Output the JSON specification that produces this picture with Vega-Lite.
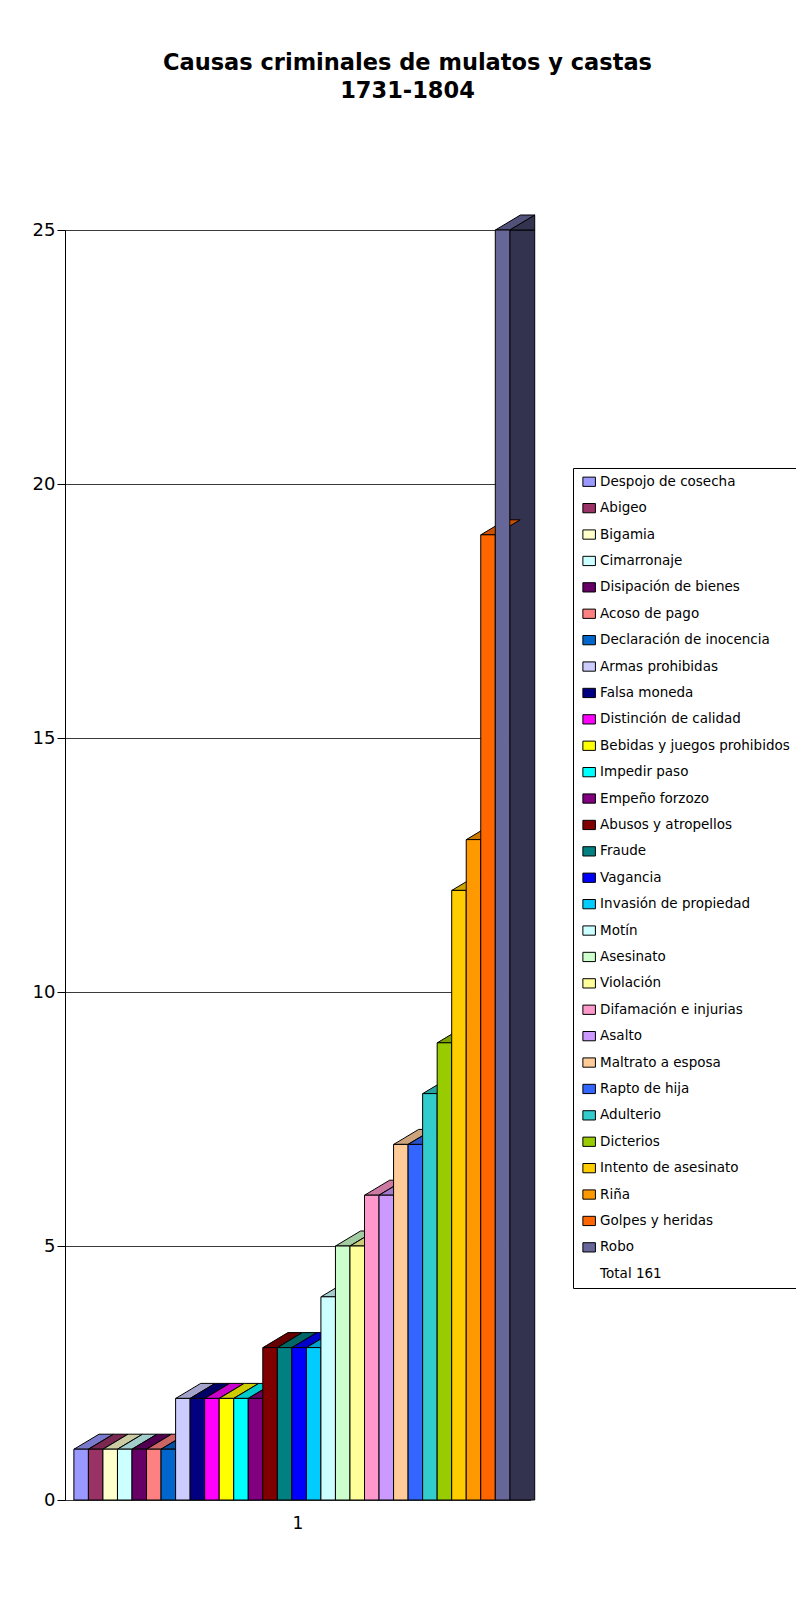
{
  "$schema": "https://vega.github.io/schema/vega-lite/v6.json",
  "autosize": {"type": "none"},
  "width": 465,
  "height": 1270,
  "padding": {"left": 65, "top": 230, "right": 266, "bottom": 107},
  "background": "#ffffff",
  "title": {
    "text": ["Causas criminales de mulatos y castas", "1731-1804"],
    "font": "DejaVu Sans",
    "fontSize": 22.5,
    "fontWeight": "bold",
    "color": "#000000",
    "anchor": "middle",
    "offset": 111,
    "dx": 110,
    "lineHeight": 28
  },
  "data": {
    "values": [
      {"causa": "Despojo de cosecha", "n": 1},
      {"causa": "Abigeo", "n": 1},
      {"causa": "Bigamia", "n": 1},
      {"causa": "Cimarronaje", "n": 1},
      {"causa": "Disipación de bienes", "n": 1},
      {"causa": "Acoso de pago", "n": 1},
      {"causa": "Declaración de inocencia", "n": 1},
      {"causa": "Armas prohibidas", "n": 2},
      {"causa": "Falsa moneda", "n": 2},
      {"causa": "Distinción de calidad", "n": 2},
      {"causa": "Bebidas y juegos prohibidos", "n": 2},
      {"causa": "Impedir paso", "n": 2},
      {"causa": "Empeño forzozo", "n": 2},
      {"causa": "Abusos y atropellos", "n": 3},
      {"causa": "Fraude", "n": 3},
      {"causa": "Vagancia", "n": 3},
      {"causa": "Invasión de propiedad", "n": 3},
      {"causa": "Motín", "n": 4},
      {"causa": "Asesinato", "n": 5},
      {"causa": "Violación", "n": 5},
      {"causa": "Difamación e injurias", "n": 6},
      {"causa": "Asalto", "n": 6},
      {"causa": "Maltrato a esposa", "n": 7},
      {"causa": "Rapto de hija", "n": 7},
      {"causa": "Adulterio", "n": 8},
      {"causa": "Dicterios", "n": 9},
      {"causa": "Intento de asesinato", "n": 12},
      {"causa": "Riña", "n": 13},
      {"causa": "Golpes y heridas", "n": 19},
      {"causa": "Robo", "n": 25}
    ]
  },
  "encoding": {
    "x": {
      "field": "causa",
      "type": "nominal",
      "sort": null,
      "scale": {
        "domain": ["Despojo de cosecha", "Abigeo", "Bigamia", "Cimarronaje", "Disipación de bienes", "Acoso de pago", "Declaración de inocencia", "Armas prohibidas", "Falsa moneda", "Distinción de calidad", "Bebidas y juegos prohibidos", "Impedir paso", "Empeño forzozo", "Abusos y atropellos", "Fraude", "Vagancia", "Invasión de propiedad", "Motín", "Asesinato", "Violación", "Difamación e injurias", "Asalto", "Maltrato a esposa", "Rapto de hija", "Adulterio", "Dicterios", "Intento de asesinato", "Riña", "Golpes y heridas", "Robo"],
        "paddingInner": 0, "paddingOuter": 1.2587, "align": 0.3056
      },
      "axis": {
        "labels": false,
        "ticks": false,
        "domain": false,
        "grid": false,
        "title": "1",
        "titleFont": "DejaVu Sans",
        "titleFontSize": 17,
        "titleFontWeight": "normal",
        "titleColor": "#000000",
        "titlePadding": 15
      }
    },
    "y": {
      "field": "n",
      "type": "quantitative",
      "scale": {"domain": [0, 25], "nice": false, "zero": true},
      "axis": {
        "title": null,
        "values": [0, 5, 10, 15, 20, 25],
        "grid": true,
        "gridColor": "#3a3a3a",
        "gridWidth": 1,
        "domain": true,
        "domainColor": "#000000",
        "domainWidth": 1,
        "ticks": true,
        "tickSize": 8,
        "tickColor": "#000000",
        "labelFont": "DejaVu Sans",
        "labelFontSize": 18,
        "labelColor": "#000000",
        "labelPadding": 2
      }
    }
  },
  "layer": [
    {
      "transform": [{"filter": "datum.causa === 'Robo'"}],
      "mark": {"type": "bar", "width": 25, "xOffset": 19.65, "fill": "#333350", "stroke": "#000000", "strokeWidth": 1}
    },
    {
      "transform": [{"filter": "datum.causa === 'Robo'"}],
      "mark": {"type": "point", "shape": "M7.15,0L32.15,-15L32.15,0Z", "size": 4, "filled": true, "fill": "#333350", "stroke": "#000000", "strokeWidth": 1, "opacity": 1}
    },
    {
      "data": {"values": [{}]},
      "mark": {"type": "point", "shape": "M7.15,0L32.15,-15L32.15,0ZM32.15,0L57.15,-15", "size": 4, "filled": true, "fill": "#ffffff", "stroke": "#000000", "strokeWidth": 1, "opacity": 1},
      "encoding": {"x": {"datum": "Robo"}, "y": {"datum": 0}}
    },
    {
      "mark": {"type": "point", "shape": "M-7.15,0L7.15,0L32.15,-15L17.85,-15Z", "size": 4, "filled": true, "stroke": "#000000", "strokeWidth": 1, "opacity": 1},
      "encoding": {
        "color": {"field": "causa", "type": "nominal"}
      }
    },
    {
      "mark": {"type": "point", "shape": "M-7.15,0L7.15,0L32.15,-15L17.85,-15Z", "size": 4, "filled": true, "fill": "#000000", "fillOpacity": 0.2, "strokeWidth": 0, "opacity": 1}
    },
    {
      "mark": {"type": "bar", "stroke": "#000000", "strokeWidth": 1},
      "encoding": {
        "color": {"field": "causa", "type": "nominal",
          "scale": {
            "domain": ["Despojo de cosecha", "Abigeo", "Bigamia", "Cimarronaje", "Disipación de bienes", "Acoso de pago", "Declaración de inocencia", "Armas prohibidas", "Falsa moneda", "Distinción de calidad", "Bebidas y juegos prohibidos", "Impedir paso", "Empeño forzozo", "Abusos y atropellos", "Fraude", "Vagancia", "Invasión de propiedad", "Motín", "Asesinato", "Violación", "Difamación e injurias", "Asalto", "Maltrato a esposa", "Rapto de hija", "Adulterio", "Dicterios", "Intento de asesinato", "Riña", "Golpes y heridas", "Robo", "Total 161"],
            "range": ["#9999FF", "#993366", "#FFFFCC", "#CCFFFF", "#660066", "#FF8080", "#0066CC", "#CCCCFF", "#000080", "#FF00FF", "#FFFF00", "#00FFFF", "#800080", "#800000", "#008080", "#0000FF", "#00CCFF", "#CCFFFF", "#CCFFCC", "#FFFF99", "#FF99CC", "#CC99FF", "#FFCC99", "#3366FF", "#33CCCC", "#99CC00", "#FFCC00", "#FF9900", "#FF6600", "#666699", "#FFFFFF"]
          },
          "legend": {
            "orient": "none",
            "legendX": 508,
            "legendY": 238,
            "direction": "vertical",
            "title": null,
            "fillColor": "#ffffff",
            "strokeColor": "#000000",
            "padding": 7,
            "labelFont": "DejaVu Sans",
            "labelFontSize": 13.5,
            "labelColor": "#000000",
            "labelLimit": 400,
            "symbolLimit": 50,
            "symbolType": "M-1.35,-1L1.35,-1L1.35,1L-1.35,1Z",
            "symbolSize": 86,
            "symbolStrokeColor": "#000000",
            "symbolStrokeWidth": 1,
            "symbolOpacity": 1,
            "symbolOffset": 2.4,
            "labelOffset": 4.2,
            "rowPadding": 11.4,
            "encode": {"symbols": {"update": {"opacity": {"signal": "datum.value === 'Total 161' ? 0 : 1"}}}}
          }
        }
      }
    },
    {
      "data": {"values": [{}]},
      "mark": {"type": "point", "shape": "M-18.15,0L-7.15,-6.6", "size": 4, "filled": false, "stroke": "#000000", "strokeWidth": 1, "opacity": 1},
      "encoding": {"x": {"datum": "Despojo de cosecha"}, "y": {"datum": 0}}
    }
  ],
  "config": {
    "view": {"stroke": "#000000", "strokeWidth": 1},
    "font": "DejaVu Sans"
  }
}
